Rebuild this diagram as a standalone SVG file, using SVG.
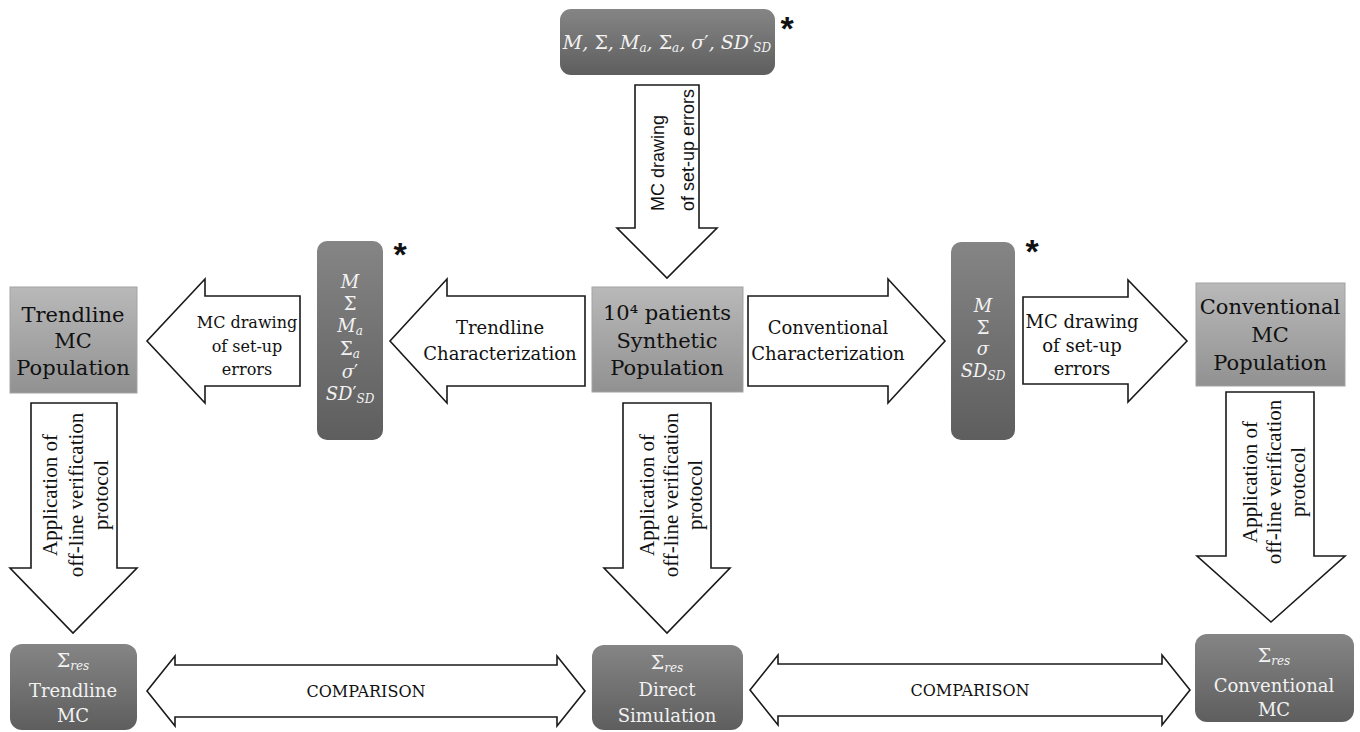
<svg xmlns="http://www.w3.org/2000/svg" width="1360" height="732" viewBox="0 0 1360 732">
<defs>
<linearGradient id="gd" x1="0" y1="0" x2="0" y2="1">
<stop offset="0" stop-color="#858585"/><stop offset="1" stop-color="#5e5e5e"/>
</linearGradient>
<linearGradient id="gl" x1="0" y1="0" x2="0" y2="1">
<stop offset="0" stop-color="#b9b9b9"/><stop offset="1" stop-color="#919191"/>
</linearGradient>
<style>
.arrow{fill:#fff;stroke:#1a1a1a;stroke-width:1.6;stroke-linejoin:miter}
.dark{fill:url(#gd)}
.light{fill:url(#gl);stroke:#a3a3a3;stroke-width:1}
.lbl{font-family:"DejaVu Serif",serif;font-size:21px;text-anchor:middle;fill:#111}
.wl{font-family:"DejaVu Serif",serif;font-size:18px;text-anchor:middle;fill:#f2f2f2}
.math{font-family:"DejaVu Serif",serif;font-style:italic;font-size:19px;text-anchor:middle;fill:#f2f2f2}
.pm{font-size:18px}
.up{font-style:normal}
.sub{font-size:12px}
.al{font-family:"DejaVu Serif",serif;font-size:18px;text-anchor:middle;fill:#111}
.als{font-family:"DejaVu Serif",serif;font-size:16px;text-anchor:middle;fill:#111}
.vt{font-family:"Liberation Serif",serif;font-size:21px;text-anchor:middle;fill:#111}
.vs{font-family:"Liberation Sans",sans-serif;font-size:18px;text-anchor:middle;fill:#111}
.cmp{font-family:"DejaVu Serif",serif;font-size:16px;text-anchor:middle;fill:#111}
.star{font-family:"Liberation Sans",sans-serif;font-weight:bold;font-size:34px;text-anchor:middle;fill:#111}
</style>
</defs>

<g id="connectors">
<g id="arrow-top-down">
<polygon class="arrow" points="635,85 699,85 699,228 717,228 667,278 617,228 635,228"/>
<text class="vs" transform="translate(664,163) rotate(-90)">MC drawing</text>
<text class="vs" transform="translate(694,150) rotate(-90)">of set-up errors</text>
</g>
<g id="arrow-mc-left">
<polygon class="arrow" points="300,296 300,386 205,386 205,403 147,341 205,279 205,296"/>
<text class="als" x="247" y="328">MC drawing</text>
<text class="als" x="247" y="352">of set-up</text>
<text class="als" x="247" y="375">errors</text>
</g>
<g id="arrow-trend-char">
<polygon class="arrow" points="585,296 585,386 447,386 447,403 390,341 447,279 447,296"/>
<text class="al" x="500" y="334">Trendline</text>
<text class="al" x="500" y="360">Characterization</text>
</g>
<g id="arrow-conv-char">
<polygon class="arrow" points="748,296 888,296 888,279 945,341 888,403 888,386 748,386"/>
<text class="al" x="828" y="334">Conventional</text>
<text class="al" x="828" y="360">Characterization</text>
</g>
<g id="arrow-mc-right">
<polygon class="arrow" points="1023,297 1128,297 1128,280 1187,341 1128,402 1128,384 1023,384"/>
<text class="al" x="1082" y="328">MC drawing</text>
<text class="al" x="1082" y="352">of set-up</text>
<text class="al" x="1082" y="375">errors</text>
</g>
<g id="arrow-down-left">
<polygon class="arrow" points="31,403 117,403 117,568 137,568 73,633 10,568 31,568"/>
<text class="vt" transform="translate(57,495) rotate(-90)">Application of</text>
<text class="vt" transform="translate(83,495) rotate(-90)">off-line verification</text>
<text class="vt" transform="translate(108,495) rotate(-90)">protocol</text>
</g>
<g id="arrow-down-center">
<polygon class="arrow" points="623,403 711,403 711,568 730,568 667,633 604,568 623,568"/>
<text class="vt" transform="translate(654,495) rotate(-90)">Application of</text>
<text class="vt" transform="translate(678,495) rotate(-90)">off-line verification</text>
<text class="vt" transform="translate(702,495) rotate(-90)">protocol</text>
</g>
<g id="arrow-down-right">
<polygon class="arrow" points="1226,392 1314,392 1314,556 1345,556 1271,622 1197,556 1226,556"/>
<text class="vt" transform="translate(1257,482) rotate(-90)">Application of</text>
<text class="vt" transform="translate(1281,482) rotate(-90)">off-line verification</text>
<text class="vt" transform="translate(1305,482) rotate(-90)">protocol</text>
</g>
<g id="arrow-compare-left">
<polygon class="arrow" points="147,691 175,656 175,665 557,665 557,656 585,691 557,726 557,717 175,717 175,726"/>
<text class="cmp" x="366" y="697">COMPARISON</text>
</g>
<g id="arrow-compare-right">
<polygon class="arrow" points="750,690 778,655 778,664 1162,664 1162,655 1190,690 1162,725 1162,716 778,716 778,725"/>
<text class="cmp" x="970" y="696">COMPARISON</text>
</g>
</g>

<g id="node-top-params">
<rect class="dark" x="560" y="9" width="215" height="66" rx="11"/>
<text class="math" x="667" y="49">M, <tspan class="up">Σ</tspan>, M<tspan class="sub" dy="3">a</tspan><tspan dy="-3">, </tspan><tspan class="up">Σ</tspan><tspan class="sub" dy="3">a</tspan><tspan dy="-3">, σ</tspan><tspan class="up">′</tspan>, SD<tspan class="up">′</tspan><tspan class="sub" dy="3">SD</tspan></text>
<text class="star" x="787" y="40">*</text>
</g>

<g id="node-trend-params">
<rect class="dark" x="317" y="241" width="66" height="199" rx="10"/>
<text class="math pm" x="350" y="288">M</text>
<text class="math pm" x="350" y="310"><tspan class="up">Σ</tspan></text>
<text class="math pm" x="350" y="332">M<tspan class="sub" dy="3">a</tspan></text>
<text class="math pm" x="350" y="355"><tspan class="up">Σ</tspan><tspan class="sub" dy="3">a</tspan></text>
<text class="math pm" x="350" y="378">σ<tspan class="up">′</tspan></text>
<text class="math pm" x="350" y="400">SD<tspan class="up">′</tspan><tspan class="sub" dy="3">SD</tspan></text>
<text class="star" x="400" y="266">*</text>
</g>

<g id="node-conv-params">
<rect class="dark" x="951" y="242" width="64" height="198" rx="10"/>
<text class="math pm" x="983" y="312">M</text>
<text class="math pm" x="983" y="334"><tspan class="up">Σ</tspan></text>
<text class="math pm" x="983" y="355">σ</text>
<text class="math pm" x="983" y="377">SD<tspan class="sub" dy="3">SD</tspan></text>
<text class="star" x="1032" y="263">*</text>
</g>

<g id="node-trend-pop">
<rect class="light" x="10" y="287" width="127" height="106"/>
<text class="lbl" x="73" y="322">Trendline</text>
<text class="lbl" x="73" y="348">MC</text>
<text class="lbl" x="73" y="375">Population</text>
</g>

<g id="node-synthetic">
<rect class="light" x="592" y="287" width="151" height="105"/>
<text class="lbl" x="667" y="320">10⁴ patients</text>
<text class="lbl" x="667" y="348">Synthetic</text>
<text class="lbl" x="667" y="375">Population</text>
</g>

<g id="node-conv-pop">
<rect class="light" x="1196" y="283" width="149" height="103"/>
<text class="lbl" x="1270" y="314">Conventional</text>
<text class="lbl" x="1270" y="342">MC</text>
<text class="lbl" x="1270" y="370">Population</text>
</g>

<g id="node-res-trend">
<rect class="dark" x="10" y="644" width="127" height="86" rx="12"/>
<text class="math" x="73" y="667"><tspan class="up">Σ</tspan><tspan class="sub" dy="3">res</tspan></text>
<text class="wl" x="73" y="697">Trendline</text>
<text class="wl" x="73" y="722">MC</text>
</g>

<g id="node-res-direct">
<rect class="dark" x="592" y="645" width="151" height="85" rx="12"/>
<text class="math" x="667" y="669"><tspan class="up">Σ</tspan><tspan class="sub" dy="3">res</tspan></text>
<text class="wl" x="667" y="696">Direct</text>
<text class="wl" x="667" y="722">Simulation</text>
</g>

<g id="node-res-conv">
<rect class="dark" x="1195" y="634" width="159" height="88" rx="12"/>
<text class="math" x="1274" y="662"><tspan class="up">Σ</tspan><tspan class="sub" dy="3">res</tspan></text>
<text class="wl" x="1274" y="692">Conventional</text>
<text class="wl" x="1274" y="716">MC</text>
</g>
</svg>
